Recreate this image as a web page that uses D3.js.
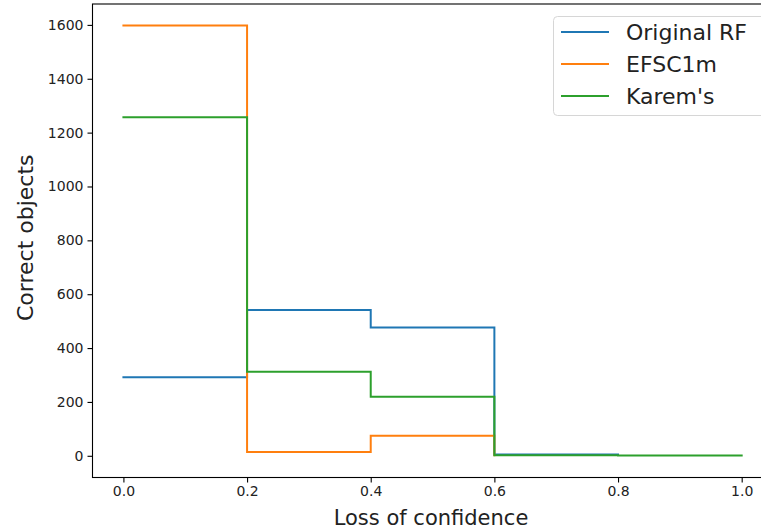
<!DOCTYPE html>
<html>
<head>
<meta charset="utf-8">
<script src="https://cdn.jsdelivr.net/npm/d3@7"></script>
<style>
html,body{margin:0;padding:0;background:#fff;overflow:hidden;}
svg{display:block;font-family:"DejaVu Sans",sans-serif;}
</style>
</head>
<body>
<svg id="chart" width="761" height="528"></svg>
<script>
// ---- data ----
const xValues = [0, 0.2, 0.4, 0.6, 0.8, 1.0];
const seriesNames = ["Original RF", "EFSC1m", "Karem's"];
const originalRF = [292, 541, 476, 5, 5];
const efsc1m = [1598, 14, 74, 2];
const karems = [1257, 312, 219, 2, 1, 1];
const xTicks = [0, 0.2, 0.4, 0.6, 0.8, 1.0];
const yTicks = [0, 200, 400, 600, 800, 1000, 1200, 1400, 1600];
const colors = ["#1f77b4", "#ff7f0e", "#2ca02c"];
const xLabel = "Loss of confidence";
const yLabel = "Correct objects";

(function () {
const svg = d3.select("#chart");
const mLeft = 92.5, mRight = 772.6, mTop = 4, mBottom = 477.5;

const x = d3.scaleLinear().domain([-0.05, 1.05]).range([mLeft, mRight]);
const y = d3.scaleLinear().domain([-80.6, 1677.6]).range([mBottom, mTop]);

const seriesData = [originalRF, efsc1m, karems].map((vals, i) => ({
  name: seriesNames[i],
  color: colors[i],
  points: vals.map((v, j) => [xValues[j], v])
}));

const line = d3.line().x(d => x(d[0])).y(d => y(d[1])).curve(d3.curveStepAfter);

svg.append("defs").append("clipPath").attr("id", "clip")
  .append("rect").attr("x", mLeft).attr("y", mTop).attr("width", mRight - mLeft).attr("height", mBottom - mTop);

const g = svg.append("g").attr("clip-path", "url(#clip)");
g.selectAll("path.series").data(seriesData).join("path")
  .attr("class", "series")
  .attr("fill", "none")
  .attr("stroke", d => d.color)
  .attr("stroke-width", 2)
  .attr("stroke-linejoin", "miter")
  .attr("stroke-linecap", "square")
  .attr("d", d => line(d.points));

// axes
const xAxis = d3.axisBottom(x).tickValues(xTicks).tickFormat(d3.format(".1f")).tickSize(5).tickPadding(4);
const yAxis = d3.axisLeft(y).tickValues(yTicks).tickFormat(d3.format("d")).tickSize(5).tickPadding(4);

const gx = svg.append("g").attr("transform", `translate(0,${mBottom})`).call(xAxis);
const gy = svg.append("g").attr("transform", `translate(${mLeft},0)`).call(yAxis);
[gx, gy].forEach(a => {
  a.select(".domain").remove();
  a.selectAll("line").attr("stroke", "#000").attr("stroke-width", 1.1);
  a.selectAll("text").attr("fill", "#222").style("font-size", "14px").style("font-family", "DejaVu Sans");
});

// spines
svg.append("rect").attr("x", mLeft).attr("y", mTop).attr("width", mRight - mLeft).attr("height", mBottom - mTop)
  .attr("fill", "none").attr("stroke", "#000").attr("stroke-width", 1.1);

// axis labels
svg.append("text").attr("x", 431).attr("y", 525)
  .attr("text-anchor", "middle").style("font-size", "21px").attr("fill", "#222").text(xLabel);
svg.append("text").attr("transform", `translate(33,${(mTop + mBottom) / 2 - 3}) rotate(-90)`)
  .attr("text-anchor", "middle").style("font-size", "22px").attr("fill", "#222").text(yLabel);

// legend
const lg = svg.append("g");
lg.append("rect").attr("x", 553.5).attr("y", 16.5).attr("width", 230).attr("height", 99).attr("rx", 4)
  .attr("fill", "#fff").attr("fill-opacity", 0.8).attr("stroke", "#d6d6d6").attr("stroke-width", 1);
const rows = [32, 64, 96];
seriesData.forEach((s, i) => {
  lg.append("line").attr("x1", 561).attr("x2", 609).attr("y1", rows[i]).attr("y2", rows[i])
    .attr("stroke", s.color).attr("stroke-width", 2);
  lg.append("text").attr("x", 626).attr("y", rows[i]).attr("dy", "0.36em")
    .style("font-size", "22px").attr("fill", "#222").text(s.name);
});
})();
</script>
</body>
</html>
